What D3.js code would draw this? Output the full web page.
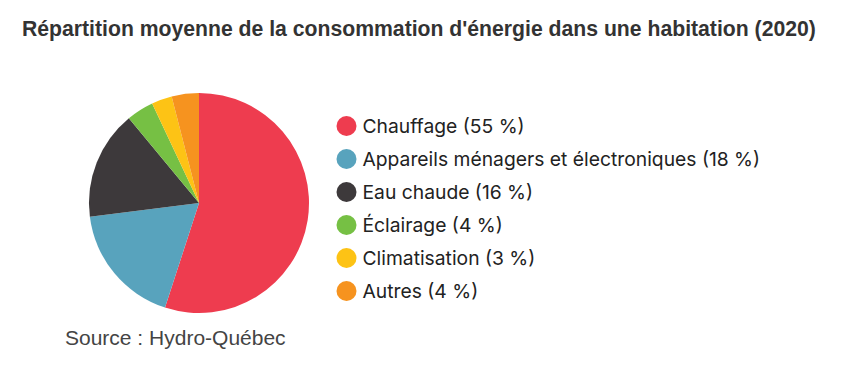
<!DOCTYPE html>
<html>
<head>
<meta charset="utf-8">
<script src="https://cdn.jsdelivr.net/npm/d3@7"></script>
<style>
  body { margin: 0; background: #fff; }
</style>
</head>
<body>
<div class="energy-chart"></div>
<script>
const categories = ["Chauffage", "Appareils ménagers et électroniques", "Eau chaude", "Éclairage", "Climatisation", "Autres"];
const shares = [55, 18, 16, 4, 3, 4];
const colors = ["#ee3c4f", "#58a3bd", "#3d393b", "#76c044", "#fdc315", "#f6931f"];

const width = 864;
const height = 388;

const svg = d3.select(".energy-chart").append("svg")
    .attr("width", width)
    .attr("height", height)
    .attr("viewBox", [0, 0, width, height]);

svg.append("text")
    .attr("x", 22)
    .attr("y", 36)
    .attr("font-family", "Liberation Sans, Arial, sans-serif")
    .attr("font-weight", "bold")
    .attr("font-size", 21.2)
    .attr("fill", "#333")
    .text("Répartition moyenne de la consommation d'énergie dans une habitation (2020)");

const data = categories.map((c, i) => ({name: c, value: shares[i], color: colors[i]}));

const pie = d3.pie().sort(null).value(d => d.value);
const arc = d3.arc().innerRadius(0).outerRadius(110);

svg.append("g")
    .attr("transform", "translate(199,203)")
    .selectAll("path")
    .data(pie(data))
    .join("path")
    .attr("d", arc)
    .attr("fill", d => d.data.color);

/* legend */
const y = d3.scalePoint().domain(categories).range([126, 291]);

const legend = svg.append("g").selectAll("g")
    .data(data)
    .join("g")
    .attr("transform", d => `translate(346.5,${y(d.name)})`);

legend.append("circle")
    .attr("r", 10)
    .attr("fill", d => d.color);

legend.append("text")
    .attr("x", 16)
    .attr("dy", "0.36em")
    .attr("font-family", "Inter, sans-serif")
    .attr("font-size", 19.3)
    .attr("fill", "#222")
    .text(d => `${d.name} (${d.value} %)`);

svg.append("text")
    .attr("x", 65)
    .attr("y", 345)
    .attr("font-family", "Liberation Sans, Arial, sans-serif")
    .attr("font-size", 21)
    .attr("fill", "#444")
    .text("Source : Hydro-Québec");
</script>
</body>
</html>
